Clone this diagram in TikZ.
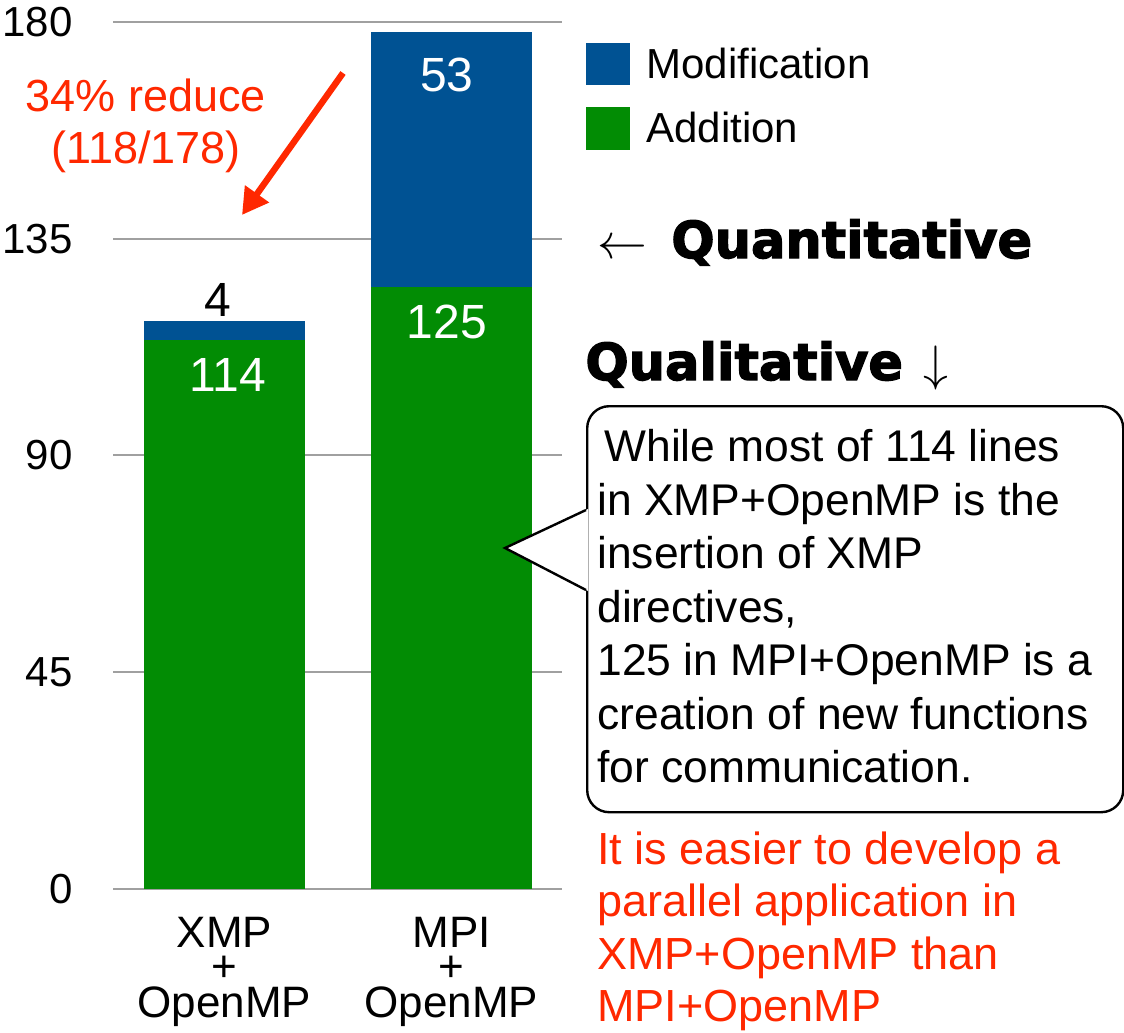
\documentclass[tikz,border=0pt]{standalone}
\usetikzlibrary{arrows.meta, positioning, calc}
\usepackage{xcolor}
\usepackage{fontspec}
\setmainfont{Liberation Sans}
\newfontfamily\heavyfont{DejaVu Sans Bold}[FakeBold=2.5]
\definecolor{modblue}{RGB}{0,82,147}
\definecolor{addgreen}{RGB}{2,140,4}
\definecolor{notered}{RGB}{255,40,0}
\definecolor{gridgray}{RGB}{160,160,160}
\def\ppl{4.817}   % pixels per changed line
\def\zeroy{889}   % where the 0 line sits

\begin{document}
\begin{tikzpicture}[x=0.5pt, y=-0.5pt]
    \tikzstyle{grid line}=[draw=gridgray, line width=1pt]
    \tikzstyle{tick}=[anchor=east, inner sep=0pt, font=\fontsize{21}{25}\selectfont]
    \tikzstyle{bar value}=[inner sep=0pt, font=\fontsize{24}{28}\selectfont]
    \tikzstyle{legend}=[anchor=base west, inner sep=0pt, font=\fontsize{21}{25}\selectfont]
    \tikzstyle{category}=[anchor=north, inner sep=0pt, font=\fontsize{22}{26}\selectfont]
    \tikzstyle{heading}=[anchor=base west, inner sep=0pt, font=\fontsize{25.5}{30}\selectfont]
    \tikzstyle{note}=[draw, line width=1.2pt, rounded corners=11pt, fill=white, anchor=north west,
        minimum width=268pt, minimum height=203pt, inner sep=0pt]
    \tikzstyle{note text}=[anchor=north west, inner sep=0pt, align=left, font=\fontsize{22.2}{26.75}\selectfont]
    \tikzstyle{red text}=[text=notered, inner sep=0pt, font=\fontsize{22.5}{26.25}\selectfont]
    \tikzstyle{reduce arrow}=[-{Triangle[length=13pt,width=14pt]}, draw=notered, line width=3.2pt]

    \useasboundingbox (0,0) rectangle (1124,1033);

    % grid and y axis
    \foreach \v in {0,45,90,135,180} {
        \draw[grid line] (113,{\zeroy-\v*\ppl}) -- (562,{\zeroy-\v*\ppl});
        \node[tick] (tick-\v) at (73,{\zeroy-\v*\ppl}) {\v};
    }

    % stacked bars
    \fill[addgreen] (144,\zeroy) rectangle (305,{\zeroy-114*\ppl});
    \fill[modblue] (144,{\zeroy-114*\ppl}) rectangle (305,{\zeroy-118*\ppl});
    \fill[addgreen] (371,\zeroy) rectangle (532,{\zeroy-125*\ppl});
    \fill[modblue] (371,{\zeroy-125*\ppl}) rectangle (532,{\zeroy-178*\ppl});

    \node[bar value] (xmp-mod) at (218,300) {4};
    \node[bar value, text=white] (xmp-add) at (228,375) {114};
    \node[bar value, text=white] (mpi-add) at (447,322) {125};
    \node[bar value, text=white] (mpi-mod) at (447,75) {53};

    % category names under the bars
    \node[category] (xmp) at (224.5,917) {XMP};
    \node[category, below=4pt of xmp] (xmp-plus) {+};
    \node[category, below=2pt of xmp-plus] (xmp-omp) {OpenMP};
    \node[category] (mpi) at (451.5,917) {MPI};
    \node[category, below=4pt of mpi] (mpi-plus) {+};
    \node[category, below=2pt of mpi-plus] (mpi-omp) {OpenMP};

    % legend
    \fill[modblue] (586,43) rectangle (630,85);
    \fill[addgreen] (586,107) rectangle (630,150);
    \node[legend] (leg-mod) at (646,78) {Modification};
    \node[legend] (leg-add) at (646,142) {Addition};

    % reduction note
    \node[red text, anchor=north, align=center] (reduce) at (146,78) {34\% reduce\\(118/178)};
    \coordinate (arrow-start) at (343,73);
    \coordinate (arrow-end) at (242,215);
    \draw[reduce arrow] (arrow-start) -- (arrow-end);

    \node[heading] (quant) at (597,258) {$\leftarrow$\hspace{5pt} {\heavyfont Quantitative}};
    \node[heading] (qual) at (585,380) {{\heavyfont Qualitative}\hspace{3pt} $\downarrow$};

    % speech bubble pointing at the MPI bar
    \node[note] (note) at (586,405) {};
    \coordinate (tip) at (505,548);
    \fill[white] ($(note.north west)+(2,104)$) -- (tip) -- ($(note.north west)+(2,186)$) -- cycle;
    \draw[line width=1.2pt, line join=miter] ($(note.north west)+(0,105)$) -- (tip) -- ($(note.north west)+(0,185)$);
    \node[note text] (note-text) at ($(note.north west)+(11,24)$) {\hspace{3.5pt}While most of 114 lines\\in XMP+OpenMP is the\\insertion of XMP\\directives,\\125 in MPI+OpenMP is a\\creation of new functions\\for communication.};

    \node[red text, anchor=north west, align=left] (easier) at (597,831) {It is easier to develop a\\parallel application in\\XMP+OpenMP than\\MPI+OpenMP};
\end{tikzpicture}
\end{document}
